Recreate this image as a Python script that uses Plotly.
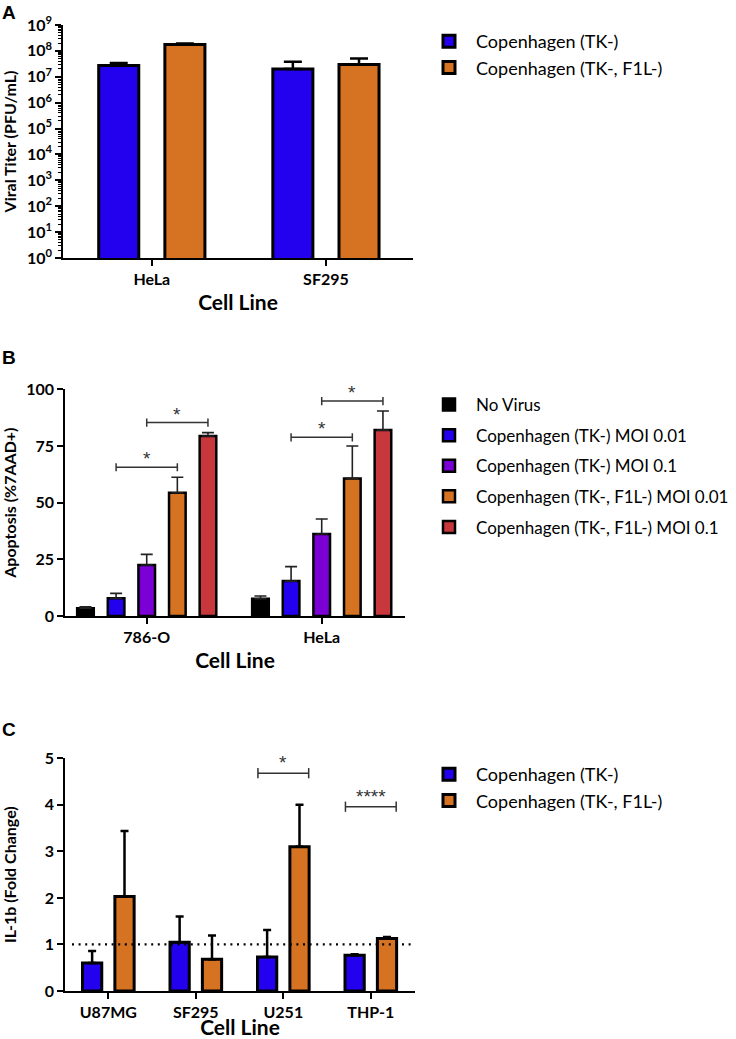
import plotly.graph_objects as go

# ---------------- data ----------------
cells_a = ["HeLa", "SF295"]
titer_tk = [2.7e7, 2.0e7]
titer_tk_sd = [0.7e7, 1.8e7]
titer_f1l = [1.78e8, 3.0e7]
titer_f1l_sd = [0.17e8, 2.1e7]
a_ticks = [10 ** k for k in range(10)]
a_ticktext = ["10<sup>%d</sup>" % k for k in range(10)]

cells_b = ["786-O", "HeLa"]
b_names = ["No Virus", "Copenhagen (TK-) MOI 0.01", "Copenhagen (TK-) MOI 0.1",
           "Copenhagen (TK-, F1L-) MOI 0.01", "Copenhagen (TK-, F1L-) MOI 0.1"]
b_means = [[3.4, 7.6], [7.8, 15.4], [22.5, 36.2], [54.4, 60.7], [79.4, 82.0]]
b_sds = [[0.7, 1.2], [2.2, 6.4], [4.7, 6.6], [6.8, 14.3], [1.5, 8.4]]
# significance brackets: (category index, from series, to series, height, label)
b_sig = [(0, 1, 3, 65.6, "*"), (0, 2, 4, 85.3, "*"),
         (1, 1, 3, 78.8, "*"), (1, 2, 4, 94.8, "*")]

cells_c = ["U87MG", "SF295", "U251", "THP-1"]
il_tk = [0.60, 1.05, 0.73, 0.77]
il_tk_sd = [0.26, 0.55, 0.58, 0.02]
il_f1l = [2.03, 0.68, 3.10, 1.13]
il_f1l_sd = [1.41, 0.51, 0.90, 0.03]
c_sig = [(2, 4.68, "*"), (3, 3.96, "****")]
c_ref = 1.0

# ---------------- style ----------------
W, H = 736, 1039
BLUE = "#2300EE"
ORANGE = "#D57322"
PURPLE = "#7B00D5"
RED = "#C8373B"
BLACK = "#000000"
b_colors = [BLACK, BLUE, PURPLE, ORANGE, RED]
FONT = "Lato"


def px_x(p):
    return p / W


def px_y(p):
    return 1 - p / H


fig = go.Figure()

# ---------- Panel A ----------
a_off, a_w = 0.19, 0.23
for name, vals, sds, col, off, lg in [
        ("Copenhagen (TK-)", titer_tk, titer_tk_sd, BLUE, -a_off, "a1"),
        ("Copenhagen (TK-, F1L-)", titer_f1l, titer_f1l_sd, ORANGE, a_off, "a2")]:
    fig.add_trace(go.Bar(
        x=cells_a, y=vals, name=name, xaxis="x", yaxis="y", legend="legend",
        legendgroup=lg, width=a_w, offset=off - a_w / 2,
        marker=dict(color=col, line=dict(color=BLACK, width=3)),
        error_y=dict(type="data", array=sds, arrayminus=[0] * len(sds), symmetric=False,
                     color=BLACK, thickness=2.5, width=9),
    ))

# ---------- Panel B ----------
b_sp, b_w = 0.175, 0.095
for i, (name, vals, sds, col) in enumerate(zip(b_names, b_means, b_sds, b_colors)):
    off = (i - 2) * b_sp
    fig.add_trace(go.Bar(
        x=cells_b, y=vals, name=name, xaxis="x2", yaxis="y2", legend="legend2",
        legendgroup="b%d" % i, width=b_w, offset=off - b_w / 2,
        marker=dict(color=col, line=dict(color=BLACK, width=2.5)),
        error_y=dict(type="data", array=sds, arrayminus=[0] * len(sds), symmetric=False,
                     color="#222222", thickness=1.6, width=6),
    ))

# ---------- Panel C ----------
c_off, c_w = 0.185, 0.22
for name, vals, sds, col, off, lg in [
        ("Copenhagen (TK-)", il_tk, il_tk_sd, BLUE, -c_off, "c1"),
        ("Copenhagen (TK-, F1L-)", il_f1l, il_f1l_sd, ORANGE, c_off, "c2")]:
    fig.add_trace(go.Bar(
        x=cells_c, y=vals, name=name, xaxis="x3", yaxis="y3", legend="legend3",
        legendgroup=lg, width=c_w, offset=off - c_w / 2,
        marker=dict(color=col, line=dict(color=BLACK, width=3)),
        error_y=dict(type="data", array=sds, arrayminus=[0] * len(sds), symmetric=False,
                     color=BLACK, thickness=2.5, width=4),
    ))

shapes = []
annotations = []
STAR = dict(family="Liberation Sans", size=19, color="#333333")

# significance brackets B
b_tick = 1.8
for cat, s0, s1, yv, lab in b_sig:
    x0 = cat + (s0 - 2) * b_sp
    x1 = cat + (s1 - 2) * b_sp
    ln = dict(color="#333333", width=1.5)
    shapes.append(dict(type="line", xref="x2", yref="y2", x0=x0, x1=x1, y0=yv, y1=yv, line=ln))
    for xx in (x0, x1):
        shapes.append(dict(type="line", xref="x2", yref="y2", x0=xx, x1=xx,
                           y0=yv - b_tick, y1=yv + b_tick, line=ln))
    annotations.append(dict(x=(x0 + x1) / 2, y=yv, xref="x2", yref="y2", text=lab,
                            showarrow=False, yanchor="bottom", yshift=-4, font=STAR))

# significance brackets C
c_half, c_tick = 0.29, 0.11
for cat, yv, lab in c_sig:
    x0, x1 = cat - c_half, cat + c_half
    ln = dict(color="#333333", width=1.5)
    shapes.append(dict(type="line", xref="x3", yref="y3", x0=x0, x1=x1, y0=yv, y1=yv, line=ln))
    for xx in (x0, x1):
        shapes.append(dict(type="line", xref="x3", yref="y3", x0=xx, x1=xx,
                           y0=yv - c_tick, y1=yv + c_tick, line=ln))
    annotations.append(dict(x=cat, y=yv, xref="x3", yref="y3", text=lab,
                            showarrow=False, yanchor="bottom", yshift=-2, font=STAR))

# reference line at fold change 1
shapes.append(dict(type="line", xref="x3 domain", yref="y3", x0=0.02, x1=1, y0=c_ref, y1=c_ref,
                   line=dict(color=BLACK, width=2.2, dash="2px,4.6px")))

# panel letters
for lab, ytop in [("A", 0), ("B", 345), ("C", 717)]:
    annotations.append(dict(x=0, y=px_y(ytop), xref="paper", yref="paper", text="<b>%s</b>" % lab,
                            showarrow=False, xanchor="left", yanchor="top",
                            font=dict(family="Liberation Sans", size=19, color=BLACK)))

tickfont = dict(family=FONT, size=16, color=BLACK, weight="bold")
titlefont_y = dict(family=FONT, size=16, color=BLACK, weight="bold")
titlefont_x = dict(family=FONT, size=21, color=BLACK, weight="bold")


def xax(dom, rng, cats, standoff, anchor):
    return dict(domain=[px_x(dom[0]), px_x(dom[1])], type="category", range=rng,
                categoryorder="array", categoryarray=cats, automargin=False,
                showline=True, linecolor=BLACK, linewidth=1.6, ticks="outside", ticklen=6,
                tickwidth=1.5, tickcolor=BLACK, tickfont=tickfont, showgrid=False, zeroline=False,
                title=dict(text="Cell Line", font=titlefont_x, standoff=standoff), anchor=anchor)


def yax(dom, title, standoff, **kw):
    d = dict(domain=[px_y(dom[1]), px_y(dom[0])], showline=True, linecolor=BLACK, linewidth=1.6,
             ticks="outside", ticklen=6, tickwidth=1.5, tickcolor=BLACK, tickfont=tickfont,
             showgrid=False, zeroline=False, automargin=False,
             title=dict(text=title, font=titlefont_y, standoff=standoff))
    d.update(kw)
    return d


xa = xax((63, 413), [-0.51, 1.5], cells_a, 8, "y")
xb = xax((65, 405), [-0.467, 1.476], cells_b, 8, "y2")
xc = xax((65, 415), [-0.495, 3.505], cells_c, 10, "y3")

ya = yax((25, 258), "Viral Titer (PFU/mL)", 23, type="log", range=[0, 9], tickmode="array",
         tickvals=a_ticks, ticktext=a_ticktext, anchor="x",
         minor=dict(ticks="outside", ticklen=3, tickwidth=1, tickcolor=BLACK, dtick="D1",
                    showgrid=False))
yb = yax((389.3, 616), "Apoptosis (%7AAD+)", 22, range=[0, 100], tickmode="array",
         tickvals=[0, 25, 50, 75, 100], anchor="x2")
yc = yax((758.3, 991), "IL-1b (Fold Change)", 46, range=[0, 5], tickmode="array",
         tickvals=[0, 1, 2, 3, 4, 5], anchor="x3")


def leg(xp, ytop, gap, size):
    return dict(x=px_x(xp), y=px_y(ytop), xanchor="left", yanchor="top", xref="paper", yref="paper",
                font=dict(family=FONT, size=size, color=BLACK), bgcolor="rgba(0,0,0,0)",
                tracegroupgap=gap, itemwidth=44, traceorder="grouped")


fig.update_layout(
    width=W, height=H, margin=dict(l=0, r=0, t=0, b=0, autoexpand=False),
    paper_bgcolor="white", plot_bgcolor="white", barmode="overlay",
    font=dict(family=FONT, color=BLACK),
    xaxis=xa, yaxis=ya, xaxis2=xb, yaxis2=yb, xaxis3=xc, yaxis3=yc,
    legend=leg(422, 23, 0, 18),
    legend2=leg(422, 387, 5.5, 17),
    legend3=leg(422, 756, 0, 18),
    shapes=shapes, annotations=annotations, showlegend=True,
)

fig.write_html("out.html", config={"displayModeBar": False},
               post_script="document.body.style.margin='0';")
